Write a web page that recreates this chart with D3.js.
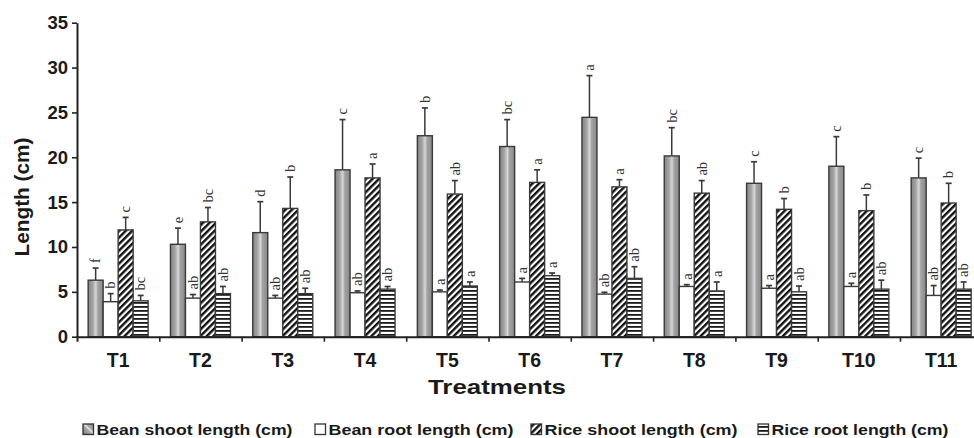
<!DOCTYPE html>
<html><head><meta charset="utf-8">
<script src="https://cdn.jsdelivr.net/npm/d3@7"></script>
<style>body{margin:0;background:#fff} svg{display:block}</style>
</head><body>
<svg id="chart" width="974" height="438"></svg>
<script>
const categories = ["T1","T2","T3","T4","T5","T6","T7","T8","T9","T10","T11"];
const seriesNames = ["Bean shoot length (cm)","Bean root length (cm)","Rice shoot length (cm)","Rice root length (cm)"];
const beanShoot     = [6.3, 10.3, 11.6, 18.6, 22.4, 21.2, 24.45, 20.15, 17.1, 19.0, 17.7];
const beanShootErr  = [1.35, 1.8, 3.45, 5.6, 3.1, 3.0, 4.65, 3.15, 2.4, 3.3, 2.2];
const beanShootLet  = ["f","e","d","c","b","bc","a","bc","c","c","c"];
const beanRoot      = [3.9, 4.3, 4.3, 4.9, 5.0, 6.1, 4.75, 5.6, 5.4, 5.6, 4.6];
const beanRootErr   = [0.9, 0.4, 0.3, 0.2, 0.2, 0.4, 0.2, 0.2, 0.3, 0.35, 1.1];
const beanRootLet   = ["b","ab","ab","ab","a","a","ab","a","a","a","ab"];
const riceShoot     = [11.9, 12.8, 14.3, 17.7, 15.9, 17.2, 16.7, 16.0, 14.2, 14.05, 14.9];
const riceShootErr  = [1.4, 1.6, 3.5, 1.55, 1.5, 1.4, 0.8, 1.4, 1.2, 1.75, 2.2];
const riceShootLet  = ["c","bc","b","a","ab","a","a","ab","b","b","b"];
const riceRoot      = [4.0, 4.8, 4.8, 5.3, 5.65, 6.8, 6.5, 5.1, 5.0, 5.3, 5.3];
const riceRootErr   = [0.6, 0.8, 0.6, 0.3, 0.45, 0.3, 1.3, 1.0, 0.65, 1.0, 0.8];
const riceRootLet   = ["bc","ab","ab","ab","a","a","ab","a","ab","ab","ab"];
const yTicks = [0,5,10,15,20,25,30,35];

const seriesVals = [beanShoot, beanRoot, riceShoot, riceRoot];
const seriesErrs = [beanShootErr, beanRootErr, riceShootErr, riceRootErr];
const seriesLets = [beanShootLet, beanRootLet, riceShootLet, riceRootLet];
const fills = ["url(#gradBean)","#ffffff","url(#diag)","url(#horiz)"];

const svg = d3.select("#chart");
const defs = svg.append("defs");
const g1 = defs.append("linearGradient").attr("id","gradBean").attr("x1",0).attr("x2",1).attr("y1",0).attr("y2",0);
[[0,"#858585"],[0.3,"#a2a2a2"],[0.52,"#d8d8d8"],[0.64,"#a4a4a4"],[1,"#888888"]].forEach(([o,c])=>g1.append("stop").attr("offset",o).attr("stop-color",c));
const gl = defs.append("linearGradient").attr("id","gradLeg").attr("x1",0).attr("x2",1).attr("y1",1).attr("y2",0);
[[0,"#777"],[0.45,"#aaa"],[0.55,"#e6e6e6"],[0.65,"#aaa"],[1,"#888"]].forEach(([o,c])=>gl.append("stop").attr("offset",o).attr("stop-color",c));
const pd = defs.append("pattern").attr("id","diag").attr("patternUnits","userSpaceOnUse").attr("width",4.6).attr("height",4.6).attr("patternTransform","rotate(45)");
pd.append("rect").attr("width",4.6).attr("height",4.6).attr("fill","#fff");
pd.append("rect").attr("width",2.4).attr("height",4.6).attr("fill","#111");
const ph = defs.append("pattern").attr("id","horiz").attr("patternUnits","userSpaceOnUse").attr("width",4).attr("height",4);
ph.append("rect").attr("width",4).attr("height",4).attr("fill","#fff");
ph.append("rect").attr("y",2).attr("width",4).attr("height",1.8).attr("fill","#1a1a1a");

const x0 = 77, step = 82.3;
const x = d3.scaleBand().domain(categories).range([x0, x0 + step*categories.length]).paddingInner(0.271).paddingOuter(0.1355);
const xs = d3.scaleBand().domain(d3.range(4)).range([0, x.bandwidth()]).padding(0);
const y = d3.scaleLinear().domain([0,35]).range([336.7, 22.7]);
const xb = d3.scaleLinear().domain([0, categories.length]).range([x0, x0 + step*categories.length]);

// bars
const groups = svg.append("g").selectAll("g").data(categories).join("g")
  .attr("transform", d => `translate(${x(d)},0)`);
groups.each(function(cat, i){
  const g = d3.select(this);
  for (let s = 0; s < 4; s++) {
    const v = seriesVals[s][i], e = seriesErrs[s][i];
    const bx = xs(s), bw = xs.bandwidth(), cx = bx + bw/2;
    g.append("line").attr("x1",cx).attr("x2",cx).attr("y1",y(v)).attr("y2",y(v+e))
      .attr("stroke","#3a3a3a").attr("stroke-width",1.5);
    g.append("line").attr("x1",cx-3).attr("x2",cx+3).attr("y1",y(v+e)).attr("y2",y(v+e))
      .attr("stroke","#3a3a3a").attr("stroke-width",1.7);
    g.append("rect").attr("x",bx).attr("y",y(v)).attr("width",bw).attr("height",y(0)-y(v))
      .attr("fill",fills[s]).attr("stroke","#3a3a3a").attr("stroke-width",1.4);
    g.append("text").attr("transform",`translate(${cx},${y(v+e)-5}) rotate(-90)`)
      .attr("dy","0.33em").attr("text-anchor","start")
      .attr("font-family","'Liberation Serif', 'DejaVu Serif', serif").attr("font-size",14.5)
      .attr("fill","#333").text(seriesLets[s][i]);
  }
});

// y axis
const ya = svg.append("g").attr("transform",`translate(${x0},0)`)
  .call(d3.axisLeft(y).tickValues(yTicks).tickSize(5).tickSizeOuter(0).tickPadding(4));
ya.select(".domain").attr("stroke","#222").attr("stroke-width",2);
ya.selectAll(".tick line").attr("stroke","#222").attr("stroke-width",1.6);
ya.selectAll(".tick text").attr("font-family","'Liberation Sans', Arial, sans-serif")
  .attr("font-weight","bold").attr("font-size",18.5).attr("fill","#1a1a1a");

// x axis: boundary ticks
const xa = svg.append("g").attr("transform",`translate(0,${y(0)})`)
  .call(d3.axisBottom(xb).tickValues(d3.range(1, categories.length+1)).tickSize(5).tickFormat(""));
xa.select(".domain").attr("stroke","#222").attr("stroke-width",2);
xa.selectAll(".tick line").attr("stroke","#222").attr("stroke-width",1.6);
// x labels
const xl = svg.append("g").attr("transform",`translate(0,${y(0)})`)
  .call(d3.axisBottom(x).tickSize(0).tickPadding(0));
xl.select(".domain").remove();
xl.selectAll(".tick text").attr("y",30).attr("dy",0)
  .attr("font-family","'Liberation Sans', Arial, sans-serif").attr("font-weight","bold")
  .attr("font-size",19.5).attr("fill","#1a1a1a");

// axis titles
svg.append("text").attr("x",497).attr("y",394).attr("text-anchor","middle")
  .attr("font-family","'Liberation Sans', Arial, sans-serif").attr("font-weight","bold")
  .attr("font-size",21).attr("textLength",138).attr("lengthAdjust","spacingAndGlyphs")
  .attr("fill","#1a1a1a").text("Treatments");
svg.append("text").attr("transform","translate(29,197) rotate(-90)").attr("text-anchor","middle")
  .attr("font-family","'Liberation Sans', Arial, sans-serif").attr("font-weight","bold")
  .attr("font-size",20).attr("textLength",119).attr("lengthAdjust","spacingAndGlyphs")
  .attr("fill","#1a1a1a").text("Length (cm)");

// legend
const legX = [83, 315, 531, 758];
const legW = [196, 185, 193, 177];
const legFill = ["url(#gradLeg)","#ffffff","url(#diag)","url(#horiz)"];
seriesNames.forEach((name, s) => {
  svg.append("rect").attr("x",legX[s]).attr("y",424).attr("width",10.5).attr("height",10.5)
    .attr("fill",legFill[s]).attr("stroke","#333").attr("stroke-width",1.3);
  svg.append("text").attr("x",legX[s]+13.5).attr("y",435)
    .attr("font-family","'Liberation Sans', Arial, sans-serif").attr("font-weight","bold")
    .attr("font-size",15.5).attr("textLength",legW[s]).attr("lengthAdjust","spacingAndGlyphs")
    .attr("fill","#1a1a1a").text(name);
});
</script>
</body></html>
